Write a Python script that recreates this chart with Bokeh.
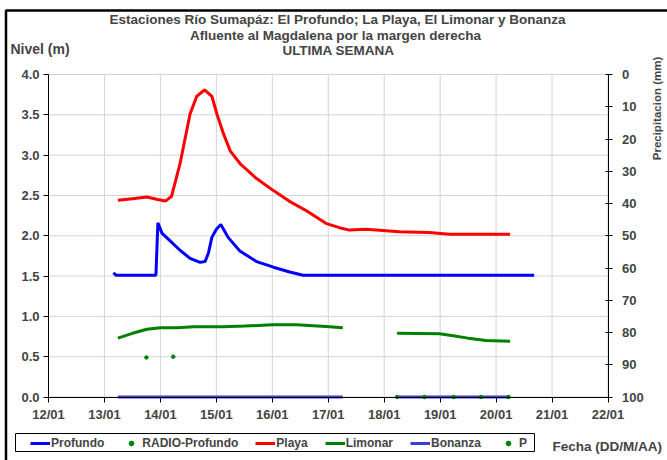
import math
from bokeh.plotting import figure
from bokeh.models import (Range1d, LinearAxis, FixedTicker, NumeralTickFormatter,
                          Label, Legend, LegendItem, BoxAnnotation)
from bokeh.embed import file_html
from bokeh.resources import INLINE

NaN = float("nan")

# ---- data (day of January) ----
day_ticks = [12, 13, 14, 15, 16, 17, 18, 19, 20, 21, 22]
day_labels = ["12/01", "13/01", "14/01", "15/01", "16/01", "17/01",
              "18/01", "19/01", "20/01", "21/01", "22/01"]

profundo_day = [13.16, 13.21, 13.92, 13.955, 14.03, 14.17, 14.35, 14.53, 14.71, 14.80,
                14.86, 14.92, 15.00, 15.08, 15.21, 15.42, 15.72, 16.02, 16.31, 16.55, 20.68]
profundo_val = [1.54, 1.51, 1.51, 2.16, 2.03, 1.94, 1.82, 1.72, 1.67, 1.68,
                1.79, 1.98, 2.08, 2.14, 1.98, 1.81, 1.68, 1.61, 1.55, 1.51, 1.51]

playa_day = [13.24, 13.5, 13.76, 13.95, 14.09, 14.2, 14.35, 14.53, 14.65, 14.79, 14.92,
             15.01, 15.13, 15.25, 15.43, 15.7, 16.02, 16.3, 16.61, 16.97, 17.2, 17.38,
             17.68, 18.27, 18.8, 19.17, 20.25]
playa_val = [2.44, 2.46, 2.48, 2.45, 2.43, 2.49, 2.89, 3.51, 3.73, 3.81, 3.73,
             3.51, 3.26, 3.05, 2.89, 2.72, 2.56, 2.43, 2.31, 2.15, 2.10, 2.07,
             2.08, 2.05, 2.04, 2.02, 2.02]

limonar_day = [13.24, 13.5, 13.76, 14.0, 14.3, 14.6, 15.12, 15.5, 16.0, 16.43, 16.96, 17.26,
               NaN, 18.23, 18.99, 19.23, 19.5, 19.82, 20.25]
limonar_val = [0.73, 0.79, 0.84, 0.86, 0.86, 0.87, 0.87, 0.88, 0.895, 0.895, 0.875, 0.86,
               NaN, 0.79, 0.785, 0.76, 0.73, 0.70, 0.69]

bonanza_day = [13.24, 17.26, NaN, 18.23, 20.25]
bonanza_val = [0.0, 0.0, NaN, 0.0, 0.0]

radio_day = [13.75, 14.23]
radio_val = [0.49, 0.50]

p_day = [18.23, 18.72, 19.24, 19.73, 20.22]
p_val = [0.0, 0.0, 0.0, 0.0, 0.0]

nivel_ticks = [0.0, 0.5, 1.0, 1.5, 2.0, 2.5, 3.0, 3.5, 4.0]
precip_ticks = [0, 10, 20, 30, 40, 50, 60, 70, 80, 90, 100]

FONT = "Liberation Sans"
W, H = 667, 460

# pixel placement of the plotting area inside the canvas
PX_L, PX_R, PX_T, PX_B = 48.0, 607.5, 74.0, 396.5
X0, X1 = day_ticks[0], day_ticks[-1]
Y0, Y1 = nivel_ticks[0], nivel_ticks[-1]
P0, P1 = precip_ticks[0], precip_ticks[-1]
sx = (PX_R - PX_L) / (X1 - X0)
sy = (PX_B - PX_T) / (Y1 - Y0)
sp = (PX_B - PX_T) / (P1 - P0)
x_range = Range1d(X0 - PX_L / sx, X1 + (W - PX_R) / sx)
y_range = Range1d(Y0 - (H - PX_B) / sy, Y1 + PX_T / sy)
p_range = Range1d(P1 + (H - PX_B) / sp, P0 - PX_T / sp)

p = figure(width=W, height=H, output_backend="svg", toolbar_location=None,
           x_range=x_range, y_range=y_range, min_border=0)
p.min_border_left = p.min_border_right = p.min_border_top = p.min_border_bottom = 0
p.outline_line_color = None
p.background_fill_color = "white"
p.border_fill_color = "white"
p.grid.visible = False
p.extra_y_ranges = {"precip": p_range}

# grid lines (drawn underneath)
p.segment(x0=day_ticks, y0=[Y0] * len(day_ticks), x1=day_ticks, y1=[Y1] * len(day_ticks),
          line_color="#d4d4d4", line_width=1, level="underlay")
p.segment(x0=[X0] * len(nivel_ticks), y0=nivel_ticks, x1=[X1] * len(nivel_ticks), y1=nivel_ticks,
          line_color="#d4d4d4", line_width=1, level="underlay")

# axes
xa, ya = p.xaxis[0], p.yaxis[0]
for ax in (xa, ya):
    ax.major_label_text_font = FONT
    ax.major_label_text_font_style = "bold"
    ax.major_label_text_font_size = "13px"
    ax.axis_line_color = "black"
    ax.major_tick_line_color = "black"
    ax.minor_tick_line_color = None
    ax.major_tick_in = 0
    ax.major_tick_out = 5

xa.ticker = FixedTicker(ticks=day_ticks)
xa.major_label_overrides = {d: l for d, l in zip(day_ticks, day_labels)}
xa.major_label_standoff = 5
xa.fixed_location = Y0
xa.bounds = (X0, X1)
ya.ticker = FixedTicker(ticks=nivel_ticks)
ya.formatter = NumeralTickFormatter(format="0.0")
ya.major_label_standoff = 4
ya.fixed_location = X0
ya.bounds = (Y0, Y1)

rax = LinearAxis(y_range_name="precip", ticker=FixedTicker(ticks=precip_ticks))
rax.major_label_text_font = FONT
rax.major_label_text_font_style = "bold"
rax.major_label_text_font_size = "13px"
rax.major_tick_in = 3
rax.major_tick_out = 4
rax.minor_tick_line_color = None
rax.major_label_standoff = 10
rax.fixed_location = X1
rax.bounds = (P0, P1)
p.add_layout(rax, "right")

# series
r_prof = p.line(profundo_day, profundo_val, line_color="#0000FF", line_width=3)
r_radio = p.scatter(radio_day, radio_val, size=3.5, color="#008000", marker="circle")
r_playa = p.line(playa_day, playa_val, line_color="#FF0000", line_width=3)
r_lim = p.line(limonar_day, limonar_val, line_color="#008000", line_width=3)
r_bon = p.line(bonanza_day, bonanza_val, line_color="#3B3BD9", line_width=3)
r_p = p.scatter(p_day, p_val, size=3.5, color="#008000", marker="circle")

def lab(text, x, y, size="13px", align="center", angle=0.0):
    # screen units: x from the left, y from the bottom of the canvas
    p.add_layout(Label(x=x, y=y, x_units="screen", y_units="screen", text=text,
                       text_font=FONT, text_font_size=size, text_font_style="bold",
                       text_align=align, text_baseline="middle", angle=angle))

lab("Estaciones Río Sumapáz: El Profundo; La Playa, El Limonar y Bonanza", 337, 441, size="13.5px")
lab("Afluente al Magdalena por la margen derecha", 335, 425.5, size="13.5px")
lab("ULTIMA SEMANA", 338, 410, size="13.5px")
lab("Nivel (m)", 10, 412, size="14px", align="left")
lab("Fecha (DD/M/AA)", 552, 14, size="13.5px", align="left")
lab("Precipitacion (mm)", 656, 352, size="11.5px", angle=math.pi / 2)

# legend frame and outer chart border
p.add_layout(BoxAnnotation(left=15, right=534, top=27, bottom=9,
                           left_units="screen", right_units="screen",
                           top_units="screen", bottom_units="screen",
                           fill_alpha=0, line_color="black", line_width=1, line_alpha=1))
p.add_layout(BoxAnnotation(left=5.5, right=720, top=450, bottom=-40,
                           left_units="screen", right_units="screen",
                           top_units="screen", bottom_units="screen",
                           fill_alpha=0, line_color="black", line_width=2.5, line_alpha=1))

legend = Legend(items=[
    LegendItem(label="Profundo", renderers=[r_prof]),
    LegendItem(label="RADIO-Profundo", renderers=[r_radio]),
    LegendItem(label="Playa", renderers=[r_playa]),
    LegendItem(label="Limonar", renderers=[r_lim]),
    LegendItem(label="Bonanza", renderers=[r_bon]),
    LegendItem(label="P", renderers=[r_p]),
], orientation="horizontal", location=(30, 10))
legend.label_text_font = FONT
legend.label_text_font_style = "bold"
legend.label_text_font_size = "12px"
legend.glyph_width = 20
legend.glyph_height = 12
legend.label_height = 12
legend.label_standoff = 1
legend.spacing = 17
legend.padding = 2
legend.margin = 0
legend.border_line_color = None
legend.background_fill_alpha = 0
p.add_layout(legend)

open("out.html", "w").write(file_html(p, INLINE))
